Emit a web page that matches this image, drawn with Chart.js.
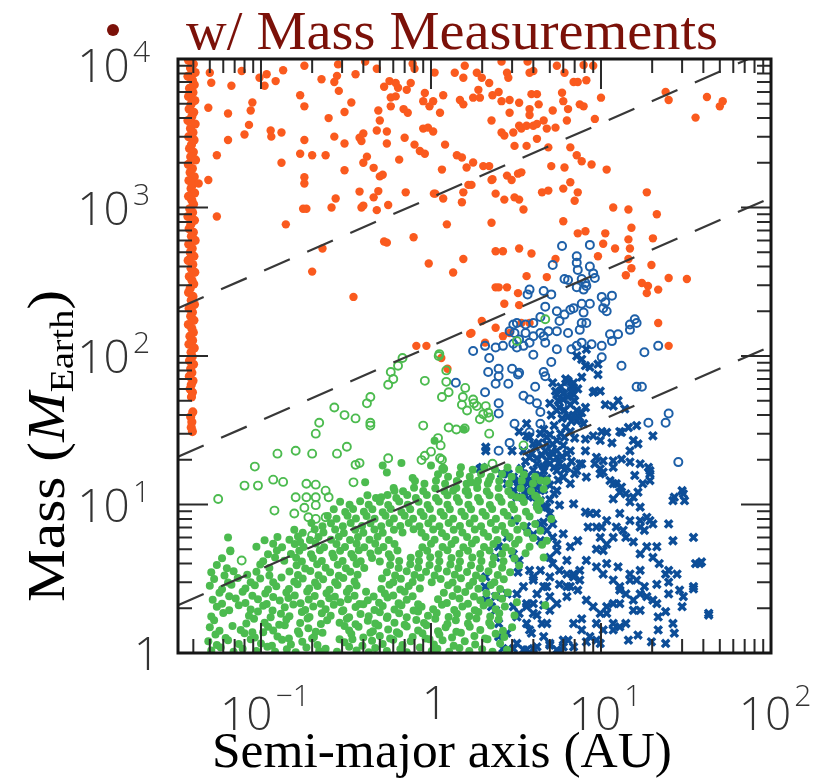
<!DOCTYPE html>
<html>
<head>
<meta charset="utf-8">
<script src="https://cdn.jsdelivr.net/npm/chart.js@4.4.1/dist/chart.umd.min.js"></script>
<style>
  html, body { margin: 0; padding: 0; background: #fff; }
  canvas { display: block; }
</style>
</head>
<body>
<canvas id="massChart" width="837" height="779"></canvas>
<script>
// semi-major axis (AU), mass (M_Earth)
var hotJupiters = [
  [0.0375,9800],[0.0400,9250],[0.0385,8700],[0.0410,8100],[0.0372,7650],[0.0395,7200],[0.0405,6700],[0.0380,6350],
  [0.0398,5950],[0.0375,5600],[0.0408,5250],[0.0388,4950],[0.0378,4600],[0.0402,4380],[0.0392,4100],[0.0372,3850],
  [0.0410,3650],[0.0385,3400],[0.0398,3200],[0.0376,3000],[0.0404,2850],[0.0390,2650],[0.0380,2500],[0.0400,2360],
  [0.0386,2200],[0.0412,2090],[0.0374,1950],[0.0395,1830],[0.0383,1720],[0.0405,1610],[0.0377,1520],[0.0396,1430],
  [0.0388,1340],[0.0407,1250],[0.0375,1190],[0.0392,1120],[0.0401,1050],[0.0381,980],[0.0396,925],[0.0372,870],
  [0.0406,820],[0.0387,770],[0.0378,720],[0.0400,680],[0.0390,640],[0.0410,600],[0.0376,565],[0.0394,530],
  [0.0384,498],[0.0403,470],[0.0373,440],[0.0397,413],[0.0388,390],[0.0408,366],[0.0379,343],[0.0393,322],
  [0.0402,305],[0.0383,285],[0.0375,268],[0.0398,252],[0.0389,237],[0.0406,222],[0.0378,209],[0.0395,197],
  [0.0386,185],[0.0403,174],[0.0374,163],[0.0392,153],[0.0400,144],[0.0382,136],[0.0396,127],[0.0377,120],
  [0.0405,113],[0.0388,106],[0.0394,99],[0.0380,93],[0.0401,88],[0.0386,82],[0.0392,77],[0.0379,73],
  [0.0398,68],[0.0389,64],[0.0383,60],[0.0395,57],[0.0390,53],[0.0397,42],[0.0386,39],[0.0392,36],[0.0389,33],[0.0395,31]
];
var massMeasured = [
  [0.050,8080],[0.051,6920],[0.077,8300],[0.067,6600],[0.098,7480],[0.108,7900],[0.105,6600],[0.122,7100],[0.135,8400],
  [0.18,9000],[0.227,7300],[0.284,9200],[0.28,7700],[0.27,7000],[0.287,6100],[0.36,7900],[0.41,9600],[0.48,8600],
  [0.57,7100],[0.53,6500],[0.62,6900],[0.64,6400],[0.72,6200],[0.76,6900],[0.78,9300],[0.80,8600],[0.92,5900],
  [0.90,5200],[1.03,5200],[0.98,4800],[1.05,8100],[0.049,4700],[0.064,4300],[0.089,5100],[0.087,4500],[0.085,3600],
  [0.080,3100],[0.114,3300],[0.115,3000],[0.132,3200],[0.064,2850],[0.055,2250],[0.17,5700],[0.18,4800],[0.25,4000],
  [0.31,4400],[0.34,5100],[0.49,4500],[0.50,3850],[0.58,4800],[0.58,5500],[0.62,5600],[0.69,4600],[0.73,4350],
  [0.27,3000],[0.31,2700],[0.38,2950],[0.40,3150],[0.39,2800],[0.48,3300],[0.55,3250],[0.55,2700],[0.70,2950],
  [0.80,2650],[0.86,2400],[0.92,2300],[0.90,3400],[0.96,3450],[1.03,3250],[0.18,2850],[0.17,2300],[0.20,2250],
  [0.24,2250],[0.132,2000],[0.31,1780],[0.42,2200],[0.40,2000],[0.46,1850],[0.50,1620],[0.52,1660],[0.65,2100],
  [0.049,1530],[0.043,1450],[0.18,1600],[0.18,1450],[0.38,1280],[0.275,1150],[0.26,1000],[0.46,1170],[0.49,1290],
  [0.39,1000],[0.40,1030],[0.48,960],[0.56,1040],[0.71,1265],[1.04,1240],[0.055,870],[0.177,980],[0.185,980],
  [0.14,770],[0.53,590],[0.55,580],[0.79,630],[0.97,420],[0.23,530],[0.20,370],[0.35,250],
  [1.38,8080],[1.58,9000],[1.55,7480],[1.86,8080],[1.99,7480],[2.2,6900],[2.6,9600],[2.8,8080],[2.85,7480],
  [3.7,9600],[3.8,8080],[4.0,8300],[5.5,9000],[6.1,8080],[6.9,7000],[7.3,7000],[7.9,9100],[8.2,7200],[9.0,9000],
  [1.18,5700],[1.13,4350],[1.48,5300],[1.55,4950],[1.77,5490],[1.9,6200],[1.94,5490],[2.3,5700],[2.27,3850],
  [2.5,6000],[2.6,5200],[2.9,5300],[3.3,5080],[3.9,5800],[4.2,5800],[4.3,4950],[3.8,4600],[3.8,4200],[4.6,3850],
  [5.2,4500],[5.9,5930],[6.0,5200],[6.4,4600],[7.5,4950],[7.9,4800],[6.3,3850],[9.2,3950],[10,5490],[2.9,4350],
  [3.3,3550],[3.4,3400],[3.65,3550],[4.0,3550],[4.2,3650],[4.8,3400],[5.4,3450],[2.6,3200],[2.7,3050],[3.05,3200],
  [3.1,2600],[3.65,2600],[4.2,2900],[4.9,2540],[6.6,2540],[7.2,2250],[7.7,2050],[8.8,1950],[10.8,1800],[1.21,2650],
  [1.42,2250],[1.52,2170],[1.62,1860],[1.77,2010],[2.03,1900],[2.2,1900],[2.3,1550],[2.8,1640],[2.98,1530],
  [3.25,1690],[3.4,1725],[1.16,1800],[1.66,1420],[1.73,1420],[1.55,1265],[2.27,1530],[2.4,1240],[2.7,1130],
  [3.1,1170],[3.3,1130],[3.5,970],[4.5,1265],[4.9,1300],[5.1,1900],[6.1,1860],[6.6,1480],[6.0,1340],[7.3,1265],
  [7.0,1110],[1.06,1240],[1.18,1150],[1.52,1085],[1.24,770],[2.27,790],[6.0,808],[11.8,1000],[14.5,970],[15.1,730],
  [18.6,1265],[21.3,900],[8.1,692],[7.3,670],[10.6,670],[10.3,570],[12.1,530],[14.8,530],[14.5,610],[14.5,450],
  [9.6,470],[5.4,450],[3.3,530],[3.9,490],[2.4,508],[2.65,508],[1.55,450],[1.35,365],[3.65,345],[4.8,340],
  [14,350],[15.1,390],[19.8,410],[20.2,620],[17.4,310],[18.9,296],[18.6,265],[21.7,280],[25,335],[32,330],
  [2.4,290],[2.5,290],[2.8,290],[3.25,265],[3.3,220],[2.7,225],[3.4,167],[3.8,167],[1.99,172],[2.4,155],[1.73,143],
  [2.08,123],[2.9,143],[2.65,136],[21.7,167],[25,117],[24,6000],[25,5300],[42,5550],[50,4800],[52,5200],[36,4030],
  [0.82,117],[0.94,117],[1.15,97],[1.25,82],[1.7,141]
];
var keplerFilled = [
  [0.051,1.04],[0.058,1.09],[0.069,1.02],[0.078,1.07],[0.094,1.03],[0.109,1.1],[0.121,1.02],[0.142,1.06],[0.16,1.01],[0.185,1.09],[0.22,1.03],[0.24,1.07],[0.28,1.02],[0.33,1.1],[0.365,1.04],[0.43,1.01],[0.47,1.08],[0.55,1.03],[0.66,1.06],[0.72,1.01],[0.86,1.09],[1.01,1.03],[1.09,1.07],[1.28,1.02],[1.47,1.08],[1.68,1.03],[2.0,1.06],[2.3,1.02],[2.8,1.05],
  [0.049,1.2],[0.055,1.13],[0.064,1.22],[0.074,1.15],[0.087,1.24],[0.1,1.16],[0.116,1.12],[0.133,1.23],[0.15,1.14],[0.175,1.19],[0.2,1.25],[0.215,1.13],[0.31,1.18],[0.345,1.24],[0.395,1.12],[0.45,1.21],[0.52,1.15],[0.6,1.23],[0.68,1.13],[0.76,1.2],[0.93,1.25],[1.04,1.14],[1.17,1.22],[1.36,1.12],[1.58,1.2],[1.82,1.14],[2.15,1.24],[2.55,1.16],
  [0.054,1.33],[0.062,1.26],[0.08,1.36],[0.092,1.27],[0.103,1.38],[0.125,1.29],[0.146,1.25],[0.168,1.35],[0.205,1.28],[0.23,1.37],[0.29,1.24],[0.34,1.34],[0.4,1.27],[0.44,1.37],[0.5,1.3],[0.575,1.25],[0.65,1.35],[0.78,1.28],[0.89,1.36],[0.98,1.24],[1.12,1.33],[1.33,1.27],[1.5,1.37],[1.8,1.3],[2.08,1.25],[2.4,1.35],[2.7,1.28],
  [0.05,1.49],[0.057,1.41],[0.068,1.52],[0.076,1.43],[0.089,1.38],[0.11,1.5],[0.118,1.42],[0.138,1.54],[0.165,1.4],[0.19,1.47],[0.21,1.39],[0.31,1.52],[0.33,1.42],[0.375,1.5],[0.455,1.4],[0.49,1.53],[0.56,1.44],[0.63,1.38],[0.72,1.51],[0.84,1.42],[0.94,1.54],[1.1,1.4],[1.22,1.49],[1.41,1.39],[1.69,1.5],[1.95,1.43],[2.25,1.53],[2.65,1.41],[3.0,1.49],
  [0.053,1.66],[0.082,1.58],[0.091,1.7],[0.105,1.6],[0.128,1.55],[0.141,1.68],[0.17,1.59],[0.188,1.71],[0.225,1.57],[0.245,1.66],[0.29,1.6],[0.32,1.7],[0.36,1.56],[0.425,1.65],[0.47,1.58],[0.55,1.72],[0.61,1.6],[0.7,1.55],[0.82,1.67],[0.91,1.59],[1.06,1.7],[1.25,1.57],[1.4,1.66],[1.65,1.58],[1.85,1.71],[2.2,1.6],[2.5,1.68],
  [0.051,1.76],[0.06,1.86],[0.085,1.78],[0.096,1.9],[0.114,1.74],[0.131,1.84],[0.147,1.77],[0.174,1.89],[0.193,1.75],[0.228,1.85],[0.257,1.78],[0.3,1.91],[0.33,1.74],[0.385,1.83],[0.43,1.77],[0.5,1.88],[0.555,1.76],[0.65,1.85],[0.72,1.74],[0.84,1.9],[0.96,1.78],[1.08,1.86],[1.27,1.75],[1.42,1.84],[1.68,1.77],[1.9,1.89],[2.23,1.76],[2.52,1.85],[3.1,1.79],
  [0.055,2.05],[0.065,1.94],[0.074,2.1],[0.087,1.96],[0.103,2.08],[0.117,1.93],[0.138,2.03],[0.155,2.12],[0.182,1.95],[0.203,2.06],[0.24,1.97],[0.268,2.11],[0.305,1.94],[0.36,2.04],[0.4,2.13],[0.465,1.95],[0.52,2.07],[0.61,1.96],[0.67,2.1],[0.79,1.93],[0.88,2.05],[1.03,1.97],[1.16,2.11],[1.37,1.95],[1.53,2.06],[1.81,1.94],[2.04,2.09],[2.4,1.97],[2.72,2.06],
  [0.052,2.28],[0.059,2.15],[0.071,2.33],[0.081,2.17],[0.096,2.3],[0.108,2.14],[0.129,2.26],[0.145,2.35],[0.171,2.16],[0.191,2.29],[0.225,2.15],[0.252,2.34],[0.293,2.2],[0.325,2.3],[0.38,2.14],[0.425,2.27],[0.495,2.18],[0.555,2.36],[0.645,2.16],[0.72,2.28],[0.84,2.13],[1.1,2.3],[1.24,2.17],[1.47,2.33],[1.65,2.15],[1.95,2.27],[2.2,2.18],[2.62,2.32],[3.2,2.2],
  [0.057,2.55],[0.065,2.41],[0.078,2.58],[0.089,2.43],[0.106,2.52],[0.118,2.38],[0.141,2.56],[0.158,2.44],[0.187,2.6],[0.207,2.42],[0.243,2.53],[0.272,2.39],[0.32,2.57],[0.355,2.43],[0.415,2.59],[0.46,2.4],[0.535,2.52],[0.6,2.44],[0.7,2.58],[0.78,2.41],[1.19,2.55],[1.34,2.42],[1.59,2.57],[1.79,2.4],[2.12,2.53],[2.4,2.43],[2.83,2.56],
  [0.05,2.84],[0.059,2.69],[0.067,2.88],[0.081,2.72],[0.092,2.86],[0.11,2.68],[0.123,2.82],[0.146,2.7],[0.164,2.9],[0.192,2.72],[0.215,2.83],[0.253,2.67],[0.282,2.87],[0.33,2.71],[0.365,2.85],[0.51,2.7],[0.57,2.88],[0.66,2.68],[0.74,2.83],[0.86,2.72],[1.26,2.86],[1.43,2.69],[1.68,2.84],[1.9,2.71],[2.25,2.87],[2.55,2.7],
  [0.053,3.15],[0.064,2.98],[0.073,3.2],[0.087,3.0],[0.099,3.17],[0.118,2.99],[0.132,3.22],[0.157,3.02],[0.176,3.18],[0.208,2.98],[0.232,3.14],[0.273,3.0],[0.305,3.2],[0.355,3.03],[0.515,3.18],[0.6,2.99],[0.665,3.16],[0.78,3.01],[0.87,3.21],[1.01,3.0],[1.14,3.15],[1.34,2.98],[1.5,3.19],[1.77,3.02],[2.0,3.17],[2.36,2.99],[2.68,3.14],
  [0.051,3.5],[0.061,3.33],[0.069,3.55],[0.083,3.36],[0.094,3.52],[0.112,3.32],[0.147,3.54],[0.165,3.35],[0.195,3.56],[0.218,3.34],[0.255,3.5],[0.287,3.31],[0.335,3.53],[0.37,3.36],[0.55,3.5],[0.615,3.33],[0.72,3.55],[0.8,3.35],[0.935,3.52],[1.05,3.32],[1.24,3.54],[1.38,3.36],[1.63,3.51],[1.84,3.33],[2.18,3.55],[2.47,3.35],[2.92,3.5],
  [0.055,3.92],[0.063,3.72],[0.099,3.95],[0.112,3.74],[0.162,3.9],[0.182,3.71],[0.214,3.96],[0.24,3.75],[0.283,3.93],[0.316,3.72],[0.365,3.97],[0.405,3.74],[0.575,3.91],[0.645,3.73],[0.755,3.96],[0.84,3.75],[0.98,3.92],[1.1,3.71],[1.3,3.95],[1.45,3.74],[1.72,3.9],[1.94,3.72],[2.3,3.96],[2.62,3.75],[3.3,3.88],
  [0.059,4.35],[0.103,4.15],[0.121,4.4],[0.137,4.18],[0.161,4.38],[0.174,4.14],[0.202,4.36],[0.228,4.16],[0.268,4.41],[0.302,4.17],[0.35,4.39],[0.386,4.15],[0.45,4.37],[0.5,4.14],[0.58,4.4],[0.65,4.16],[0.76,4.38],[0.85,4.17],[0.99,4.41],[1.12,4.15],[1.32,4.36],[1.48,4.14],[1.75,4.39],[1.98,4.16],[2.34,4.38],[2.67,4.15],[3.1,4.33],
  [0.066,4.85],[0.11,4.62],[0.124,4.9],[0.15,4.65],[0.168,4.88],[0.197,4.63],[0.222,4.92],[0.263,4.66],[0.292,4.89],[0.34,4.64],[0.376,4.91],[0.44,4.67],[0.49,4.88],[0.565,4.63],[0.635,4.9],[0.85,4.65],[0.95,4.89],[1.11,4.62],[1.25,4.91],[1.47,4.66],[1.65,4.88],[1.95,4.64],[2.21,4.9],[2.62,4.66],[2.98,4.87],[3.6,4.7],
  [0.094,5.2],[0.118,5.45],[0.133,5.15],[0.158,5.42],[0.178,5.17],[0.21,5.46],[0.235,5.16],[0.278,5.43],[0.312,5.18],[0.365,5.45],[0.405,5.15],[0.47,5.44],[0.525,5.17],[0.61,5.41],[0.89,5.16],[1.0,5.45],[1.17,5.18],[1.32,5.43],[1.55,5.15],[1.74,5.46],[2.05,5.17],[2.33,5.42],[2.75,5.16],[3.12,5.44],[3.8,5.2],[4.5,5.35],
  [0.064,6.0],[0.105,5.75],[0.125,6.05],[0.147,5.78],[0.165,6.08],[0.194,5.76],[0.218,6.04],[0.258,5.8],[0.287,6.07],[0.334,5.77],[0.372,6.03],[0.435,5.79],[0.485,6.06],[0.565,5.76],[0.93,6.04],[1.05,5.78],[1.23,6.07],[1.39,5.77],[1.63,6.05],[1.84,5.79],[2.17,6.06],[2.46,5.76],[2.9,6.03],[3.28,5.8],[4.0,5.95],
  [0.157,6.75],[0.176,6.45],[0.207,6.8],[0.233,6.47],[0.273,6.78],[0.307,6.44],[0.358,6.76],[0.4,6.46],[0.465,6.79],[0.52,6.45],[0.605,6.77],[0.68,6.48],[0.79,6.8],[0.88,6.46],[1.03,6.78],[1.16,6.44],[1.36,6.76],[1.53,6.47],[1.81,6.79],[2.04,6.45],[2.4,6.77],[2.72,6.48],[3.22,6.75],[3.68,6.46],[4.4,6.65],
  [0.198,7.5],[0.23,7.15],[0.258,7.48],[0.303,7.13],[0.337,7.52],[0.393,7.16],[0.44,7.49],[0.51,7.14],[0.57,7.51],[0.66,7.17],[0.74,7.5],[0.855,7.15],[0.965,7.48],[1.12,7.13],[1.27,7.52],[1.48,7.16],[1.69,7.49],[1.97,7.14],[2.25,7.51],[2.62,7.17],[2.98,7.5],[3.5,7.2],[4.1,7.4],
  [0.247,8.38],[0.278,8.02],[0.323,8.4],[0.362,8.05],[0.418,8.37],[0.466,8.03],[0.54,8.41],[0.605,8.04],[0.7,8.39],[0.785,8.02],[0.905,8.38],[1.02,8.05],[1.19,8.4],[1.35,8.03],[1.58,8.37],[1.8,8.04],[2.1,8.41],[2.41,8.02],[2.82,8.39],[3.23,8.05],[3.8,8.3],
  [0.268,9.3],[0.313,8.9],[0.348,9.32],[0.403,8.92],[0.452,9.28],[0.52,8.88],[0.58,9.31],[0.67,8.91],[0.755,9.29],[0.87,8.9],[0.985,9.33],[1.14,8.89],[1.29,9.3],[1.51,8.92],[1.72,9.28],[2.01,8.9],[2.29,9.32],[2.68,8.91],[3.08,9.3],[3.62,8.95],[4.3,9.2],
  [0.292,10.45],[0.332,9.95],[0.383,10.5],[0.43,9.97],[0.5,10.42],[0.56,9.93],[0.65,10.48],[0.73,9.96],[0.845,10.44],[0.955,9.94],[1.11,10.47],[1.25,9.95],[1.46,10.43],[1.66,9.97],[1.94,10.49],[2.22,9.94],[2.6,10.45],[2.98,9.96],[3.52,10.4],[4.2,10.0],
  [0.423,11.55],[0.475,11.05],[0.555,11.6],[0.625,11.08],[0.725,11.57],[0.815,11.04],[0.945,11.59],[1.07,11.06],[1.25,11.56],[1.42,11.05],[1.66,11.6],[1.89,11.07],[2.21,11.55],[2.53,11.04],[2.97,11.58],[3.43,11.1],[4.1,11.45],
  [0.603,12.9],[0.685,12.3],[0.795,12.95],[0.9,12.32],[1.06,12.88],[1.2,12.28],[1.41,12.92],[1.6,12.31],[1.87,12.9],[2.13,12.29],[2.5,12.93],[2.85,12.3],[3.37,12.88],[3.88,12.35],[4.6,12.7],
  [0.805,14.4],[0.915,13.8],[1.07,14.45],[1.21,13.82],[1.42,14.42],[1.62,13.79],[1.89,14.46],[2.16,13.81],[2.52,14.4],[2.88,13.8],[3.42,14.43],[3.98,13.85],[4.7,14.3],
  [1.1,16.0],[1.26,15.35],[1.48,16.05],[1.69,15.38],[1.97,16.02],[2.25,15.36],[2.62,16.04],[2.98,15.37],[3.52,15.95],[4.1,15.4],
  [1.5,17.8],[1.76,17.15],[2.06,17.85],[2.38,17.2],[2.82,17.75],[3.3,17.2],
  [0.52,18.3],[0.55,16.4],[0.67,19],[0.78,15.1],[1.0,18.3],[1.18,17.2],[0.41,14.1],[1.05,26.9],[1.56,32],[1.35,12.4],
  [1.63,12.4],[1.72,14.1],[0.51,11.2],[0.61,12.4],[1.18,17.4],[1.86,13.8],[2.2,14.5],[2.5,11.2],[3.2,11.2],[4.2,11.2],
  [4.4,14.5],[4.8,14.5],[0.066,4.9],[0.17,5.6],[4.4,10.6],[4.2,9.6],[5.1,8.0],[4.8,5.7],[4.6,4.4],[4.7,2.1]
];
var keplerOpen = [
  [0.68,97],[0.64,86],[0.58,78],[0.60,70],[0.56,64],[0.44,53],[0.42,48],[0.92,68],[1.11,100],[1.23,80],[1.23,67],
  [1.27,57],[1.16,53],[1.59,61],[1.54,53],[1.77,51],[1.79,48],[1.63,43],[0.27,45],[0.31,40],[0.36,38],[0.22,35.5],
  [0.21,30],[0.44,35.5],[0.44,34],[0.90,34],[1.27,33],[1.41,32],[1.58,32.5],[1.10,28],[1.14,25],[0.32,24.5],
  [0.16,23],[0.125,22],[0.20,22],[0.28,22],[0.092,18],[0.08,13.4],[0.096,13.4],[0.118,14.7],[0.135,14.2],
  [0.185,13.8],[0.21,13.6],[0.24,12.4],[0.56,20.5],[0.36,18.5],[0.38,19],[0.35,14.1],[0.92,21.3],[1.0,22.7],
  [0.88,19.9],[1.13,20.5],[0.056,10.9],[0.16,11.2],[0.185,11.2],[0.25,11.2],[0.21,11.2],[0.18,9.5],[0.21,9.9],
  [0.157,8.7],[0.19,8.2],[0.21,8.0],[0.24,8.2],[0.12,9.1],[0.20,6.2],[0.077,4.2],[4.7,177],[3.2,126],[1.12,103],
  [1.86,46],[2.1,46],[2.17,41.5],[2.03,40.5],[2.2,30],[2.3,18.8],[1.16,20],[1.52,47],[1.94,37.5],[2.2,38.5],
  [1.18,17.4],[3.5,25]
];
var rvOpen = [
  [5.9,550],[8.6,560],[5.2,410],[7.2,470],[7.2,425],[7.3,380],[8.6,400],[9.0,360],[9.2,335],[6.1,330],[6.4,325],
  [7.7,330],[8.1,310],[7.2,290],[7.9,280],[8.2,296],[3.8,280],[3.7,260],[4.6,274],[4.7,215],[5.1,260],[5.5,200],
  [6.1,190],[5.7,172],[6.6,205],[6.9,210],[7.7,225],[7.9,196],[8.6,225],[7.7,167],[8.2,167],[10.1,250],[11.6,255],
  [10.3,210],[10.8,200],[10.6,230],[12.6,140],[11.3,140],[11.6,126],[10.1,117],[8.8,120],[7.7,123],[7.2,117],
  [6.7,111],[6.4,143],[5.5,147],[4.9,147],[4.6,136],[4.7,123],[4.4,143],[4.0,136],[4.0,167],[3.6,163],[3.6,143],
  [3.8,123],[3.3,129],[3.2,167],[3.05,163],[2.9,147],[2.65,117],[2.4,114],[2.08,117],[1.77,108],[18,106],[21.7,117],
  [14.8,163],[15.8,177],[16.2,167],[14.8,150],[4.0,102],[2.2,97],[3.2,114],[3.5,117],[5.5,111],[7.5,150],[10.1,98],
  [13.2,86],[5.1,91],[4.7,73],[3.3,77],[3.0,82],[2.5,82],[2.17,78],[2.5,73],[2.4,65],[2.85,65],[3.25,75],[1.40,66],
  [2.08,57],[2.5,48],[2.5,41],[3.5,54],[3.8,51],[4.2,48],[4.1,62],[6.1,60],[16.2,62],[17.4,62],[25,41],[24,35.5],
  [19,35.5],[3.1,35],[4.4,35],[3.8,30.6],[2.9,26],[2.5,23],[28.5,19.3],[3.1,143],[4.4,183],[3.05,121],[4.6,78],
  [4.4,42],[5.7,54],[5.9,47]
];
var rvMinMass = [
  [8.2,111],[7.7,95],[9.6,88],[8.6,84],[9.6,75],[8.1,86],[6.2,70],[6.7,62],[7.7,72],[6.9,55],[6.0,51],[5.7,45],
  [6.4,39],[7.2,36.5],[5.5,43],[8.1,45],[7.7,41.5],[9.2,58],[9.9,58],[10.6,47],[11.8,46],[12.6,50],[13.8,44],
  [10.8,30.6],[10.1,31],[9.0,29],[8.1,27.6],[6.6,31],[6.1,28.4],[5.5,27],[4.8,28.4],[4.4,30],[3.65,35],[3.8,28.4],
  [3.3,31],[4.1,24.3],[4.7,23],[5.0,20.8],[5.5,20.8],[5.7,18.8],[6.3,17.8],[7.0,16.1],[7.7,18.8],[6.6,23],[2.1,24.3],
  [2.0,17.8],[2.85,16.1],[3.05,14.5],[3.25,13.1],[3.5,13.1],[3.7,13.8],[3.9,12.4],[4.0,11.2],[4.4,10.6],[4.8,9.6],
  [5.5,12.4],[5.7,9.9],[6.9,10.1],[8.1,8.9],[8.6,8.7],[9.4,8.7],[10.8,7.8],[9.9,6.0],[9.4,5.0],[10.3,4.9],[11.8,10.9],
  [12.9,12.1],[14,11.8],[15.5,11.2],[17,9.6],[18.6,8.2],[20.2,7.4],[18,6.7],[14.8,7.8],[17,7.8],[12.9,8.7],[14.8,10.4],
  [16.5,12.1],[19,17.8],[19.4,16.1],[15.8,15.7],[14.8,19.3],[11.8,19.7],[10.3,19.7],[9.9,17.4],[10.3,16.5],[11.3,14.5],
  [12.3,13.8],[13.2,13.1],[15.5,27],[16.5,25.6],[12.9,31],[11.6,26],[9.9,27],[20.2,29],[27,11.2],[31,10.6],[30,12.4],
  [35,6.0],[36,4.0],[39,4.1],[28,3.4],[25,3.0],[35,2.7],[43,1.8],[30.5,2.4],[30,2.05],[24,1.9],[21.3,2.15],[21.7,1.75],
  [26.5,1.58],[21.7,1.43],[27,1.36],[24,1.16],[19.8,1.19],[16.5,1.32],[14.5,1.22],[12.9,1.5],[11.8,1.58],[10.3,1.43],
  [9.4,1.22],[8.2,1.19],[7.7,1.43],[7.7,1.7],[6.9,1.58],[6.4,1.22],[6.0,1.1],[5.5,1.05],[5.0,1.13],[4.6,1.29],[4.5,1.58],
  [4.2,1.8],[4.6,2.1],[5.5,2.15],[6.3,2.4],[7.3,2.65],[6.6,2.8],[5.7,2.9],[5.0,2.4],[4.8,2.8],[4.0,3.1],[3.5,2.8],
  [3.2,2.5],[3.05,2.05],[3.2,1.75],[3.65,1.58],[3.9,1.36],[4.0,1.07],[3.5,1.05],[3.05,1.07],[2.65,1.07],[2.5,1.29],
  [2.8,1.36],[2.5,1.58],[2.4,1.94],[2.8,2.5],[3.25,3.5],[3.8,3.6],[4.4,3.6],[5.2,4.0],[6.3,4.2],[5.5,5.4],[4.4,5.7],
  [4.0,6.3],[3.65,7.1],[3.1,7.8],[2.8,6.0],[2.5,5.2],[2.4,4.4],[2.1,3.25],[2.08,2.8],[2.1,2.27],[2.27,2.05],[2.4,2.4],
  [3.05,4.65],[3.3,4.2],[4.6,7.6],[5.2,7.4],[6.0,6.35],[6.6,5.2],[7.3,5.7],[8.4,7.05],[9.4,7.05],[10.1,7.05],[12.3,7.05],
  [14,6.0],[15.5,5.6],[17,4.65],[18.6,5.2],[20.2,4.4],[22,4.0],[24,3.4],[21.3,2.9],[18,2.8],[17,2.5],[15.5,2.27],
  [14,2.5],[12.9,2.8],[11.8,3.1],[10.3,3.4],[9.4,3.8],[10.8,4.0],[12.6,3.8],[14.8,3.4],[16.2,3.1],[18.6,2.4],[15.5,1.94],
  [12.9,2.15],[11.8,2.15],[10.8,2.05],[9.9,1.85],[9.0,2.05],[8.2,2.27],[7.5,3.1],[6.9,3.4],[6.3,3.4],[5.7,3.6],
  [5.0,3.25],[4.6,2.8],[4.2,2.5],[4.0,2.15],[3.65,2.05],[3.3,1.85],
  [6.9,66],[6.7,58],[6.4,53],[7.0,50],[6.1,43],[7.2,43],[7.5,38.5],[6.7,36.5],[9.0,57],[13.2,30.6],[14.5,33],[16.2,34],
  [8.1,23],[9.4,20.8],[7.5,18.8],[6.3,22],[5.5,23],[4.8,25.6],[4.0,25.6],[3.65,29],[3.5,23],[3.8,20.8],[4.2,18.8],
  [4.6,16.9],[5.0,18.8],[5.5,16.9],[6.0,15.3],[6.6,13.8],[7.2,16.9],[8.2,15.3],[9.2,18.8],[9.9,16.1],[11.8,17.8],
  [13.2,20.2],[14.8,23],[17,18.8],[19.4,16.9],[19.4,14.5],[17.6,13.8],[11.8,13.8],[3.3,14.5],[4.0,11.8],[4.4,12.4],
  [3.05,12.4],[2.8,13.8],[2.6,16.1],[3.0,23],[2.1,23],[1.94,17.4],[5.5,55],[5.0,48],[7.2,100],
  [3.05,15.3],[3.5,16.1],[3.8,14.5],[4.4,15.7],[3.3,13.1],[3.65,12.4],[4.2,13.1],[3.2,11.2],[4.6,9.6],[5.0,8.7],
  [4.4,7.4],[4.8,6.7],[5.2,6.0],[5.5,4.9],[5.0,4.4],[4.0,3.25],[3.65,2.15],[4.0,1.85],[3.8,1.43],[3.2,1.16],[3.65,1.05],
  [4.2,1.1],[5.0,1.16],[6.0,1.22],[6.9,1.1],[5.7,1.0],[4.8,1.58],[5.0,1.94],[6.3,2.8],[6.9,3.25],[7.5,3.6],[8.2,4.2],
  [10.8,5.4],[11.8,6.0],[13.5,6.7],[17,7.05],[19.4,7.8],[25,7.4],[26.5,10.6],[30.5,11.8],[26.5,5.7],[21.3,5.2],[17,3.6],
  [14.8,3.1],[12.9,2.65],[10.8,1.85],[9.4,1.58],[8.6,1.29],[9.9,1.16],[11.8,1.43],[14,1.58],[17,1.94],[20.2,2.27],
  [25,2.5],[29,2.65],[35,2.8],[38,4.0],[25,3.6],[43,1.85],
  [5.2,66],[5.8,62],[6.4,68],[5.4,58],[6.0,56],[7.3,60],[5.6,50],[6.6,47],[5.1,40],[5.9,38],[6.9,40],[7.9,35],
  [5.3,34],[6.2,33],[4.6,32],[5.0,29.5],[5.8,30],[7.0,28],[4.3,26],[5.2,25.5],[6.0,25],[3.9,22],[4.5,21.5],[5.1,22.5],
  [5.9,21],[3.6,19.5],[4.2,20.5],[4.8,19.8],[6.7,19.5],[3.4,17.5],[4.0,17],[4.6,18],[5.3,17.8],[6.1,17.2],[3.7,15.5],
  [4.8,15],[5.6,14.6],[3.5,14.2],[4.2,14.3],[5.0,13.5],[3.9,13.0],[4.6,12.6],[5.3,11.8],[3.6,11.5],[4.2,10.3],[5.0,10.8]
];
// dashed guide lines, end values read at the frame edges
var guideA = [0.0325, 100];
var guideMasses = [[210, 11650], [21, 1165], [2.1, 116.5]];

var xMajor = [0.1, 1, 10];
var xMinor = [0.04,0.05,0.06,0.07,0.08,0.09,0.2,0.3,0.4,0.5,0.6,0.7,0.8,0.9,2,3,4,5,6,7,8,9,20,30,40,50,60,70,80,90];
var yMajor = [10, 100, 1000];
var yMinor = [2,3,4,5,6,7,8,9,20,30,40,50,60,70,80,90,200,300,400,500,600,700,800,900,2000,3000,4000,5000,6000,7000,8000,9000];
var xLabelValues = [0.1, 1, 10, 100];
var xLabelBase = ['10', '1', '10', '10'];
var xLabelExp = ['\u22121', '', '1', '2'];
var yLabelValues = [1, 10, 100, 1000, 10000];
var yLabelBase = ['1', '10', '10', '10', '10'];
var yLabelExp = ['', '1', '2', '3', '4'];

function pts(list) {
    return list.map(function(p) { return {x: p[0], y: p[1]}; });
}

var tickFont = '300 46px "Open Sans", "Lato", "DejaVu Sans", sans-serif';
var expFont = '300 30px "Open Sans", "Lato", "DejaVu Sans", sans-serif';
var serif = '"Liberation Serif", "Times New Roman", serif';

function powLabel(ctx, base, exp, x, y, align, raise) {
    ctx.font = tickFont;
    var wb = ctx.measureText(base).width;
    ctx.font = expFont;
    var we = exp ? ctx.measureText(exp).width + 3 : 0;
    var x0 = align === 'right' ? x - wb - we : x - (wb + we) / 2;
    ctx.font = tickFont;
    ctx.fillText(base, x0, y);
    if (exp) {
        ctx.font = expFont;
        ctx.fillText(exp, x0 + wb + 3, y - raise);
    }
}

function fitText(ctx, text, x, y, width, font) {
    ctx.font = font;
    var w = ctx.measureText(text).width;
    ctx.save();
    ctx.translate(x, y);
    ctx.scale(width / w, 1);
    ctx.fillText(text, 0, 0);
    ctx.restore();
}

var framePlugin = {
    id: 'frame',
    afterDatasetsDraw: function(chart) {
        var ctx = chart.ctx, a = chart.chartArea, xs = chart.scales.x, ys = chart.scales.y;
        ctx.save();
        ctx.strokeStyle = '#2a2a2a';
        ctx.lineWidth = 2;
        ctx.beginPath();
        function xTick(v, len) {
            var px = xs.getPixelForValue(v);
            ctx.moveTo(px, a.bottom); ctx.lineTo(px, a.bottom - len);
            ctx.moveTo(px, a.top); ctx.lineTo(px, a.top + len);
        }
        function yTick(v, len) {
            var py = ys.getPixelForValue(v);
            ctx.moveTo(a.left, py); ctx.lineTo(a.left + len, py);
            ctx.moveTo(a.right, py); ctx.lineTo(a.right - len, py);
        }
        xMajor.forEach(function(v) { xTick(v, 30); });
        xMinor.forEach(function(v) { xTick(v, 14); });
        yMajor.forEach(function(v) { yTick(v, 30); });
        yMinor.forEach(function(v) { yTick(v, 14); });
        ctx.stroke();
        ctx.lineWidth = 3;
        ctx.strokeStyle = '#151515';
        ctx.strokeRect(a.left, a.top, a.right - a.left, a.bottom - a.top);

        // tick labels
        ctx.fillStyle = '#333';
        ctx.textBaseline = 'alphabetic';
        ctx.textAlign = 'left';
        xLabelValues.forEach(function(v, i) {
            var px = xs.getPixelForValue(v);
            var base = xLabelExp[i] ? 730 : 719;
            powLabel(ctx, xLabelBase[i], xLabelExp[i], px + 4, base, 'center', 24);
        });
        yLabelValues.forEach(function(v, i) {
            var py = ys.getPixelForValue(v) + 17;
            if (py < 82) py = 82;
            var right = yLabelExp[i] ? 150 : 160;
            powLabel(ctx, yLabelBase[i], yLabelExp[i], right, py, 'right', 20);
        });

        // axis titles
        ctx.fillStyle = '#000';
        fitText(ctx, 'Semi-major axis (AU)', 212, 767, 460, '50px ' + serif);

        ctx.save();
        ctx.translate(64, 602);
        ctx.rotate(-Math.PI / 2);
        var parts = [
            {t: 'Mass (', f: '53px ' + serif, dy: 0},
            {t: 'M', f: 'italic 53px ' + serif, dy: 0},
            {t: 'Earth', f: '34px ' + serif, dy: 9},
            {t: ')', f: '53px ' + serif, dy: 0}
        ];
        var total = 0;
        parts.forEach(function(p) { ctx.font = p.f; p.w = ctx.measureText(p.t).width; total += p.w; });
        ctx.scale(312 / total, 1);
        var cx = 0;
        parts.forEach(function(p) { ctx.font = p.f; ctx.fillText(p.t, cx, p.dy); cx += p.w; });
        ctx.restore();

        // legend line
        ctx.fillStyle = '#7b1109';
        ctx.beginPath();
        ctx.arc(113, 30, 6, 0, Math.PI * 2);
        ctx.fill();
        fitText(ctx, 'w/ Mass Measurements', 186, 49, 532, '54px ' + serif);
        ctx.restore();
    }
};

var guideSets = guideMasses.map(function(m) {
    return {
        data: [{x: guideA[0], y: m[0]}, {x: guideA[1], y: m[1]}],
        showLine: true,
        borderColor: '#383838',
        borderWidth: 2.2,
        borderDash: [28, 19],
        pointRadius: 0,
        order: 0
    };
});

var ctx = document.getElementById('massChart').getContext('2d');
new Chart(ctx, {
    type: 'scatter',
    data: {
        datasets: guideSets.concat([
            {data: pts(keplerFilled), pointStyle: 'circle', pointRadius: 4, pointBorderWidth: 0,
             pointBackgroundColor: '#4cbb4f', order: 1},
            {data: pts(keplerOpen), pointStyle: 'circle', pointRadius: 4, pointBorderWidth: 1.9,
             pointBorderColor: '#4cbb4f', pointBackgroundColor: 'rgba(0,0,0,0)', order: 2},
            {data: pts(rvMinMass), pointStyle: 'crossRot', pointRadius: 5.2, pointBorderWidth: 3.4,
             pointBorderColor: '#0d4e98', order: 3},
            {data: pts(rvOpen), pointStyle: 'circle', pointRadius: 4, pointBorderWidth: 2,
             pointBorderColor: '#1e60a8', pointBackgroundColor: 'rgba(0,0,0,0)', order: 4},
            {data: pts(massMeasured), pointStyle: 'circle', pointRadius: 4.2, pointBorderWidth: 0,
             pointBackgroundColor: '#fa5a1e', order: 5},
            {data: pts(hotJupiters), pointStyle: 'circle', pointRadius: 4.6, pointBorderWidth: 0,
             pointBackgroundColor: '#fa5a1e', order: 6}
        ])
    },
    options: {
        responsive: false,
        animation: false,
        devicePixelRatio: 1,
        layout: {padding: {left: 178, top: 59, right: 66, bottom: 126}},
        plugins: {legend: {display: false}, tooltip: {enabled: false}},
        scales: {
            x: {type: 'logarithmic', min: 0.0325, max: 100, display: false},
            y: {type: 'logarithmic', min: 1, max: 10000, display: false}
        }
    },
    plugins: [framePlugin]
});
</script>
</body>
</html>
